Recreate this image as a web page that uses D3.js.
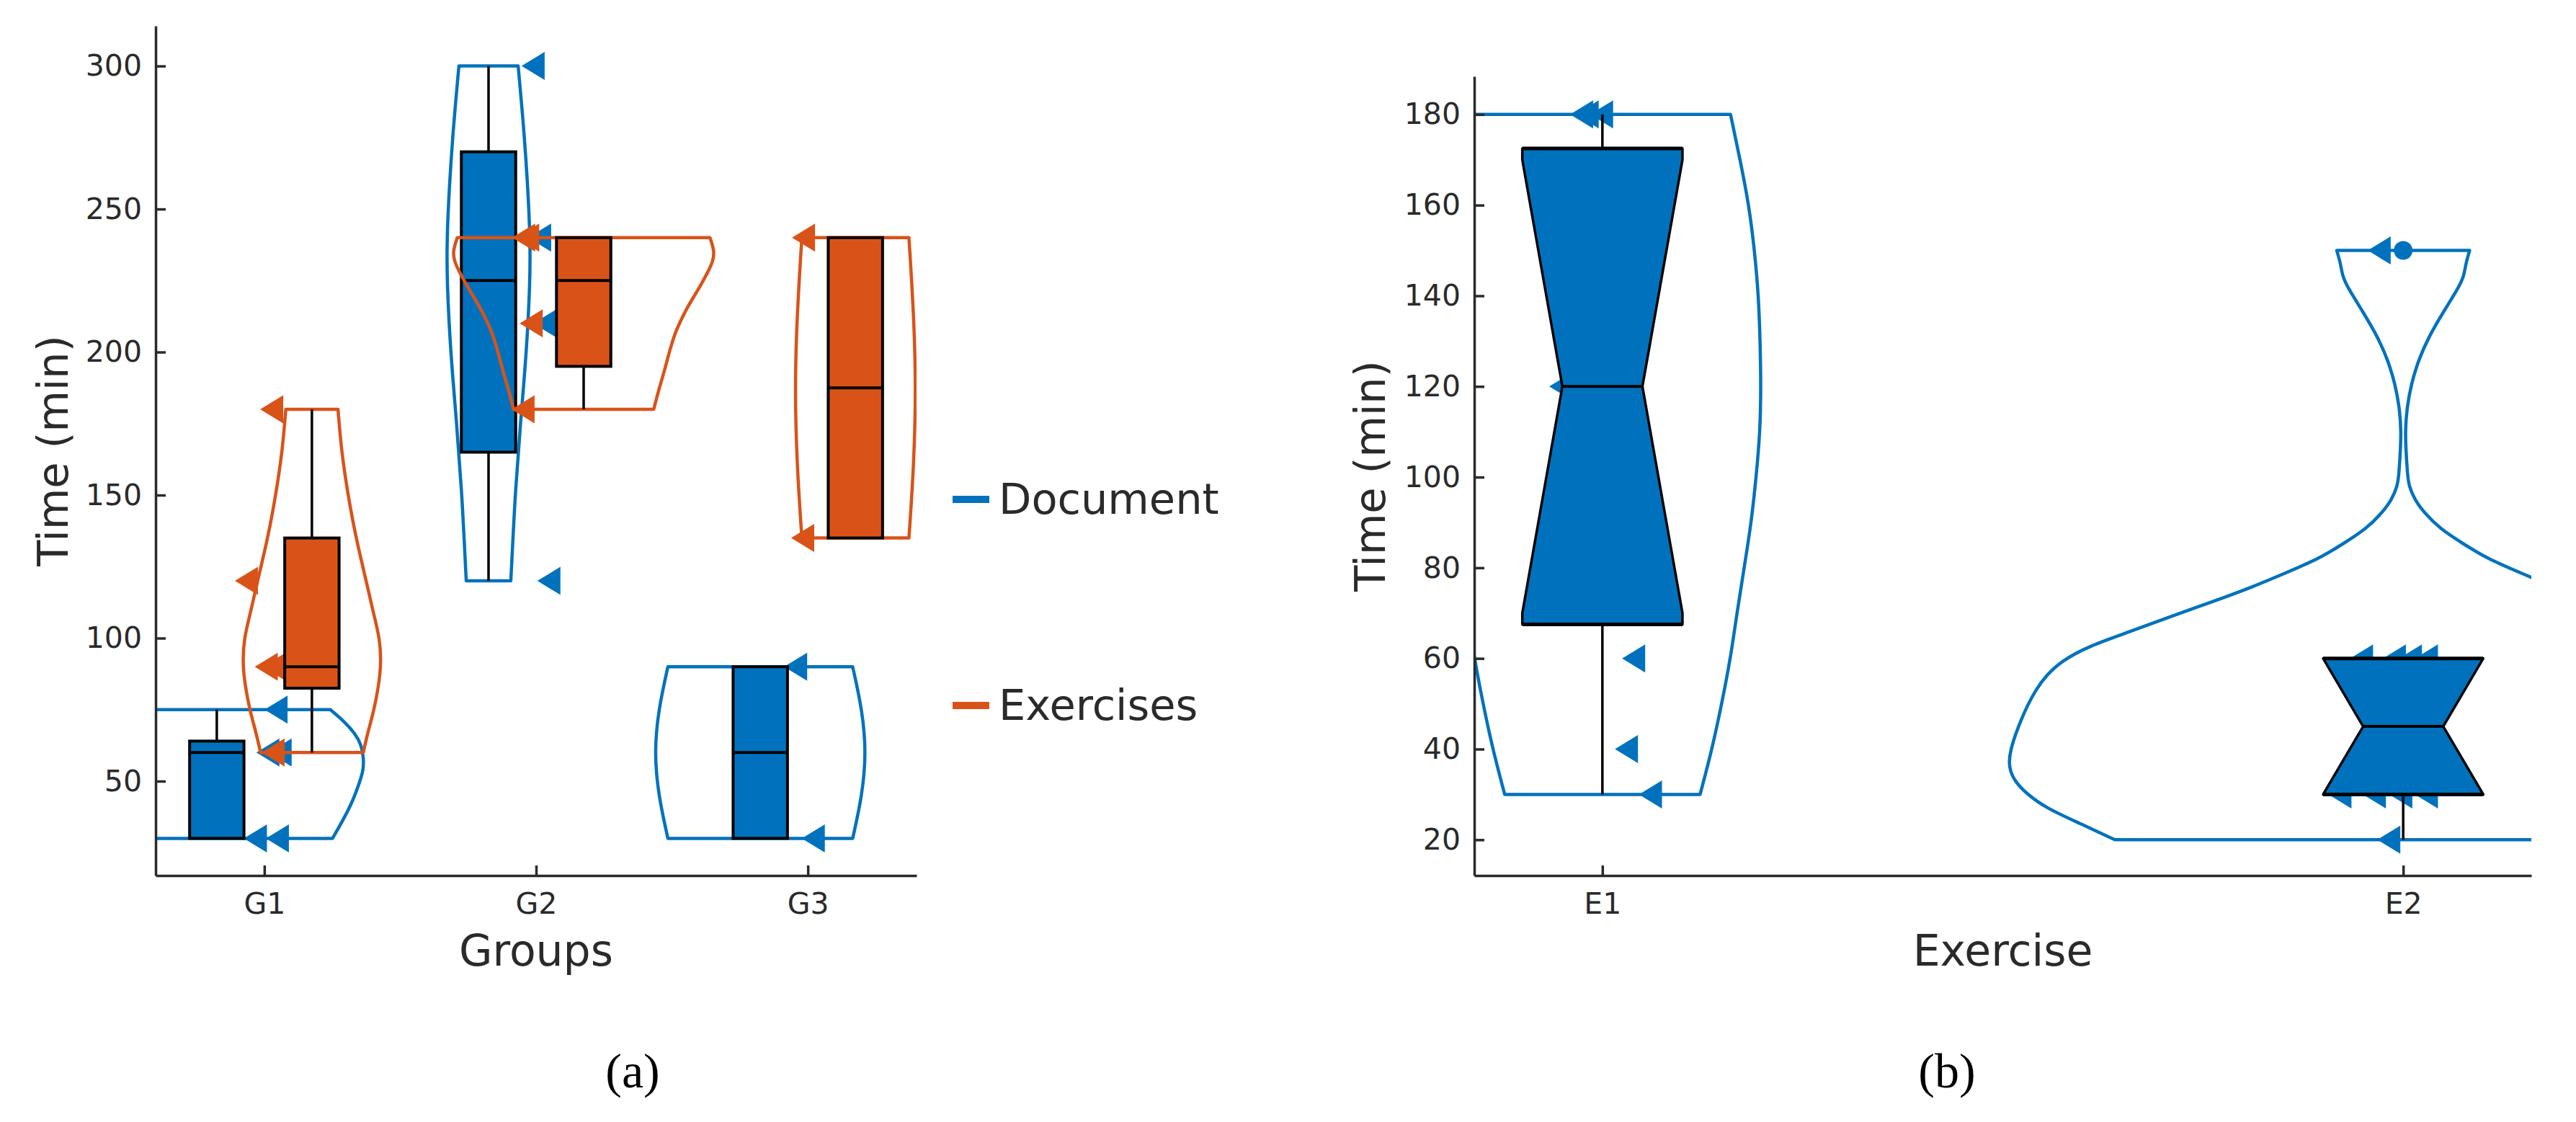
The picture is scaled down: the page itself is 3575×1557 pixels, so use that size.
<!doctype html>
<html>
<head>
  <script src="https://d3js.org/d3.v7.min.js"></script>
  <style>
    body { margin: 0; background: #fff; }
    svg { display: block; }
    text { font-family: "DejaVu Sans", sans-serif; fill: #2a2a2a; }
    .axis path, .axis line { stroke: #2a2a2a; stroke-width: 3.5; }
    .axis text { font-size: 41px; }
    .title { font-size: 60px; text-anchor: middle; }
    .caption { font-family: "Liberation Serif", serif; font-size: 68px; text-anchor: middle; fill: #000; }
  </style>
</head>
<body>
<div id="container"></div>

<script>
  // category labels and ticks
  var groups = ["G1", "G2", "G3"];
  var exercises = ["E1", "E2"];
  var groupTicks = [50, 100, 150, 200, 250, 300];
  var exerciseTicks = [20, 40, 60, 80, 100, 120, 140, 160, 180];
  var seriesNames = ["Document", "Exercises"];
  var seriesColors = ["#0072BD", "#D95319"];

  // box stats: [whisker low, q1, median, q3, whisker high]
  var boxDocument = [[30, 30, 60, 64, 75], [120, 165, 225, 270, 300], [30, 30, 60, 90, 90]];
  var boxExercises = [[60, 82.5, 90, 135, 180], [180, 195, 225, 240, 240], [135, 135, 187.5, 240, 240]];
  // [whisker low, q1, notch low, median, notch high, q3, whisker high]
  var boxExercise = [[30, 67.5, 70, 120, 170, 172.5, 180], [20, 30, 30, 45, 60, 60, 60]];

  // violin outlines: [time, half width in x units]
  var violinDocG1 = [[75, .418], [71, .468], [66.8, .508], [62.7, .532], [58.4, .54], [54, .54], [50, .527], [41.6, .495], [33, .444], [30, .426]];
  var violinDocG2 = [[300, .109], [275, .133], [250, .149], [237, .153], [225, .153], [200, .14], [175, .117], [150, .098], [135, .09], [120, .082]];
  var violinDocG3 = [[90, .34], [75, .375], [60, .39], [45, .375], [30, .34]];
  var violinExG1 = [[180, .096], [165, .109], [150, .133], [135, .162], [120, .2], [108.8, .226], [100, .25], [91, .255], [83, .245], [75, .229], [66.8, .205], [60, .189]];
  var violinExG2 = [[240, .465], [235.2, .482], [231.4, .475], [228, .457], [223.9, .434], [219.6, .407], [215.4, .38], [211.3, .359], [207, .338], [202.8, .324], [198.6, .311], [194.4, .3], [190.2, .287], [186, .274], [180, .258]];
  var violinExG3 = [[240, .197], [213, .215], [187, .223], [160, .215], [135, .197]];
  var violinE1 = [[180, .16], [170, .172], [160, .183], [150, .19], [140, .195], [130, .197], [120, .198], [110, .197], [100, .192], [90, .186], [80, .177], [70, .168], [60, .16], [50, .149], [40, .137], [30, .122]];
  var violinE2 = [[150, .083], [147, .078], [144.4, .076], [141.7, .069], [136.4, .05], [131, .032], [125.8, .019], [120.5, .01], [115.2, .0045], [110, .0024], [104.6, .0039], [100.6, .0054], [98, .0072], [95, .0144], [92, .027], [88.6, .046], [85.4, .074], [82.1, .104], [78.9, .146], [75.7, .189], [72.4, .24], [69.2, .291], [65.9, .341], [62.7, .393], [59.4, .427], [56.2, .446], [53, .459], [49.7, .469], [46.5, .477], [43.3, .484], [40, .49], [36.8, .493], [33.5, .488], [30.2, .471], [27, .446], [23.7, .405], [20, .36]];

  // jittered points: [x, time]
  var pointsDocument = [[1.043, 75], [1.013, 60], [1.058, 60], [.967, 30], [1.048, 30], [1.989, 300], [2.013, 240], [2.032, 210], [2.047, 120], [2.955, 90], [3.02, 30]];
  var pointsExercises = [[1.027, 180], [.934, 120], [1.007, 90], [1.036, 90], [1.032, 60], [1.954, 240], [1.969, 240], [1.982, 210], [1.952, 180], [2.984, 240], [2.981, 135]];
  var pointsExercise = [[.974, 180], [.981, 180], [.999, 180], [.948, 120], [1.039, 60], [1.03, 40], [1.06, 30],
    [1.97, 150], [1.948, 60], [1.989, 60], [2.009, 60], [2.029, 60], [1.921, 30], [1.964, 30], [1.997, 30], [2.029, 30], [1.982, 20]];
  var outliersExercise = [[2, 150]];

  var svg = d3.select("#container").append("svg").attr("width", 3575).attr("height", 1557);

  var triangle = {
    draw: function(ctx) {
      ctx.moveTo(-16, 0);
      ctx.lineTo(16, -19.5);
      ctx.lineTo(16, 19.5);
      ctx.closePath();
    }
  };

  function makePanel(o) {
    var x = d3.scaleLinear().domain(o.xDomain).range(o.xRange);
    var y = d3.scaleLinear().domain(o.yDomain).range([1215, o.top]);

    svg.append("clipPath").attr("id", o.id + "-clip").append("rect")
      .attr("x", o.xRange[0]).attr("y", o.top)
      .attr("width", o.xRange[1] - o.xRange[0]).attr("height", 1215 - o.top);

    var g = svg.append("g").attr("clip-path", "url(#" + o.id + "-clip)");

    svg.append("g").attr("class", "axis").attr("transform", "translate(0,1215)")
      .call(d3.axisBottom(x).tickValues(d3.range(1, o.labels.length + 1))
        .tickFormat(function(d) { return o.labels[d - 1]; })
        .tickSizeInner(-14).tickSizeOuter(0).tickPadding(24));
    svg.append("g").attr("class", "axis").attr("transform", "translate(" + o.xRange[0] + ",0)")
      .call(d3.axisLeft(y).tickValues(o.yTicks).tickSizeInner(-14).tickSizeOuter(0).tickPadding(19));

    svg.append("text").attr("class", "title")
      .attr("x", (o.xRange[0] + o.xRange[1]) / 2).attr("y", 1340).text(o.xTitle);
    svg.append("text").attr("class", "title").style("font-size", "59px")
      .attr("transform", "translate(" + o.yTitleX + "," + ((o.top + 1215) / 2) + ") rotate(-90)")
      .text("Time (min)");
    svg.append("text").attr("class", "caption")
      .attr("x", o.captionX).attr("y", 1509).text(o.caption);

    return { g: g, x: x, y: y };
  }

  function drawViolin(p, center, outline, color) {
    var area = d3.area().curve(d3.curveBasis)
      .y(function(d) { return p.y(d[0]); })
      .x0(function(d) { return p.x(center - d[1]); })
      .x1(function(d) { return p.x(center + d[1]); });
    p.g.append("path").attr("d", area(outline))
      .attr("fill", "none").attr("stroke", color).attr("stroke-width", 4.5).attr("stroke-linejoin", "round");
  }

  function drawPoints(p, points, color) {
    p.g.selectAll(null).data(points).enter().append("path")
      .attr("d", d3.symbol().type(triangle))
      .attr("transform", function(d) { return "translate(" + p.x(d[0]) + "," + p.y(d[1]) + ")"; })
      .attr("fill", color);
  }

  function drawWhisker(p, c, lo, hi) {
    p.g.append("line").attr("x1", p.x(c)).attr("x2", p.x(c)).attr("y1", p.y(lo)).attr("y2", p.y(hi))
      .attr("stroke", "#000").attr("stroke-width", 3.5);
  }

  function drawBox(p, c, stats, color) {
    var half = 0.1;
    drawWhisker(p, c, stats[0], stats[1]);
    drawWhisker(p, c, stats[3], stats[4]);
    p.g.append("rect")
      .attr("x", p.x(c - half)).attr("width", p.x(c + half) - p.x(c - half))
      .attr("y", p.y(stats[3])).attr("height", p.y(stats[1]) - p.y(stats[3]))
      .attr("fill", color).attr("stroke", "#000").attr("stroke-width", 4);
    p.g.append("line").attr("x1", p.x(c - half)).attr("x2", p.x(c + half))
      .attr("y1", p.y(stats[2])).attr("y2", p.y(stats[2]))
      .attr("stroke", "#000").attr("stroke-width", 4);
  }

  function drawNotched(p, c, s, color) {
    var half = 0.1, waist = 0.05;
    drawWhisker(p, c, s[0], s[1]);
    drawWhisker(p, c, s[5], s[6]);
    var outline = [[c - half, s[1]], [c - half, s[2]], [c - waist, s[3]], [c - half, s[4]], [c - half, s[5]],
      [c + half, s[5]], [c + half, s[4]], [c + waist, s[3]], [c + half, s[2]], [c + half, s[1]]];
    var line = d3.line().x(function(d) { return p.x(d[0]); }).y(function(d) { return p.y(d[1]); });
    p.g.append("path").attr("d", line(outline) + "Z")
      .attr("fill", color).attr("stroke", "#000").attr("stroke-width", 3.5).attr("stroke-linejoin", "round");
    p.g.append("line").attr("x1", p.x(c - waist)).attr("x2", p.x(c + waist))
      .attr("y1", p.y(s[3])).attr("y2", p.y(s[3]))
      .attr("stroke", "#000").attr("stroke-width", 4);
    [s[1], s[5]].forEach(function(v) {
      p.g.append("line").attr("x1", p.x(c - half)).attr("x2", p.x(c + half))
        .attr("y1", p.y(v)).attr("y2", p.y(v)).attr("stroke", "#000").attr("stroke-width", 5);
    });
  }

  // panel (a)
  var a = makePanel({
    id: "a", xDomain: [.6, 3.4], xRange: [216, 1272], yDomain: [17, 314], yTicks: groupTicks, top: 36,
    labels: groups, xTitle: "Groups", yTitleX: 94, captionX: 878, caption: "(a)"
  });
  var dodge = 0.175;
  [violinDocG1, violinDocG2, violinDocG3].forEach(function(v, i) {
    drawViolin(a, i + 1 - dodge, v, seriesColors[0]);
  });
  drawPoints(a, pointsDocument, seriesColors[0]);
  boxDocument.forEach(function(b, i) { drawBox(a, i + 1 - dodge, b, seriesColors[0]); });
  [violinExG1, violinExG2, violinExG3].forEach(function(v, i) {
    drawViolin(a, i + 1 + dodge, v, seriesColors[1]);
  });
  drawPoints(a, pointsExercises, seriesColors[1]);
  boxExercises.forEach(function(b, i) { drawBox(a, i + 1 + dodge, b, seriesColors[1]); });

  // panel (b)
  var b = makePanel({
    id: "b", xDomain: [.84, 2.16], xRange: [2046, 3513], yDomain: [12.1, 188.4], yTicks: exerciseTicks, top: 106,
    labels: exercises, xTitle: "Exercise", yTitleX: 1922, captionX: 2702, caption: "(b)"
  });
  [violinE1, violinE2].forEach(function(v, i) { drawViolin(b, i + 1, v, seriesColors[0]); });
  drawPoints(b, pointsExercise, seriesColors[0]);
  b.g.selectAll(null).data(outliersExercise).enter().append("circle")
    .attr("cx", function(d) { return b.x(d[0]); }).attr("cy", function(d) { return b.y(d[1]); })
    .attr("r", 13).attr("fill", seriesColors[0]);
  boxExercise.forEach(function(s, i) { drawNotched(b, i + 1, s, seriesColors[0]); });

  // legend
  var legend = svg.selectAll(".legend").data(seriesNames).enter().append("g").attr("class", "legend")
    .attr("transform", function(d, i) { return "translate(1322," + (693 + i * 286) + ")"; });
  legend.append("line").attr("x2", 51).attr("stroke-width", 10)
    .attr("stroke", function(d, i) { return seriesColors[i]; });
  legend.append("text").attr("x", 64).attr("y", 20).style("font-size", "59px").text(function(d) { return d; });
</script>
</body>
</html>
